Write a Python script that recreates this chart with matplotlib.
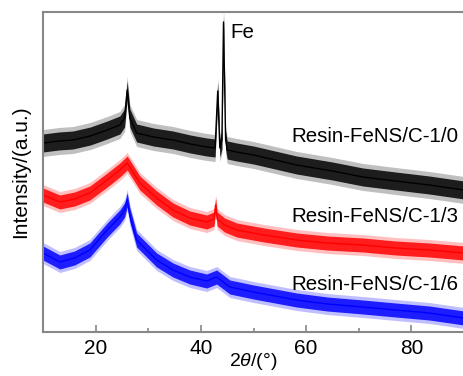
import numpy as np
import matplotlib
matplotlib.use("Agg")
import matplotlib.pyplot as plt

plt.rcParams['font.family'] = ['Liberation Sans', 'DejaVu Sans']
plt.rcParams['mathtext.fontset'] = 'custom'
plt.rcParams['mathtext.it'] = 'Liberation Sans:italic'
plt.rcParams['mathtext.rm'] = 'Liberation Sans'

# values (2theta in deg, intensity in arbitrary units)
tt_10 = [10, 13, 15.7, 19, 22.2, 24.6, 25.5, 26.0, 26.5, 27.8, 31, 34.7, 38, 41.1,
         42.7, 43.2, 43.6, 44.0, 44.3, 44.7, 45.0, 46.8, 50, 58.2, 65, 70.8, 77, 83.4, 90]
i_10 = [189, 191, 192, 196, 202, 207, 214, 242, 214, 199, 195, 192, 188, 185,
        184, 241, 184, 192, 310, 192, 182, 180, 177, 167, 161, 155, 151, 147, 142]

tt_13 = [10, 13.2, 16, 18.9, 22.2, 24.6, 26.0, 28.4, 31.6, 34.7, 37.9, 41.1,
         42.5, 42.8, 43.1, 44.5, 46.8, 52, 58.2, 64, 70.8, 77, 83.4, 90]
i_13 = [137, 130, 133, 139, 152, 162, 169, 149, 134, 122, 114, 110,
        113, 127, 113, 107, 102, 97, 92, 89, 87, 84, 82, 79]

tt_16 = [10, 13.2, 16, 18.9, 22.2, 24.6, 25.5, 26.0, 26.5, 27.8, 31.6, 34.7, 37.9,
         41.1, 43.0, 45.5, 50, 58.2, 64, 70.8, 77, 83.4, 90]
i_16 = [79, 70, 74, 82, 102, 115, 122, 132, 117, 92, 72, 62, 55,
        51, 55, 45, 40, 32, 28, 25, 22, 19, 14]

labels = ["Resin-FeNS/C-1/0", "Resin-FeNS/C-1/3", "Resin-FeNS/C-1/6"]
label_y = [196, 115, 47]
noise = [9, 7, 7]   # half width of the noisy band
colors = ["black", "red", "blue"]

fig = plt.figure(figsize=(4.63, 3.76), dpi=100)
ax = fig.add_axes([43/463, 44/376, 421/463, 320/376])

for x, y, hw, c in zip([tt_10, tt_13, tt_16], [i_10, i_13, i_16], noise, colors):
    x = np.array(x)
    y = np.array(y)
    ax.fill_between(x, y - 1.5*hw, y + 1.5*hw, color=c, alpha=0.25, lw=0)
    ax.fill_between(x, y - hw, y + hw, color=c, alpha=0.85, lw=0)
    ax.plot(x, y, color=c, lw=1)

for lab, ly in zip(labels, label_y):
    ax.text(88.9, ly, lab, ha="right", va="center", fontsize=14.8)
ax.text(45.7, 299, "Fe", ha="left", va="center", fontsize=14.8)

ax.set_xlim(10, 90)
ax.set_ylim(0, 320)
ax.set_xticks([20, 40, 60, 80])
ax.set_xticks([30, 50, 70], minor=True)
ax.set_yticks([])
ax.tick_params(axis="x", which="both", direction="in", labelsize=15, pad=5,
               color="#888888")
ax.tick_params(axis="x", which="major", length=5, width=1.2)
ax.tick_params(axis="x", which="minor", length=3, width=1.2)
for s in ["left", "bottom", "top"]:
    ax.spines[s].set_color("#888888")
    ax.spines[s].set_linewidth(1.5)
ax.spines["right"].set_visible(False)

ax.set_xlabel(r"2$\theta$/(°)", fontsize=14, labelpad=-5)
ax.set_ylabel("Intensity/(a.u.)", fontsize=15, labelpad=9)

fig.savefig("out.png", dpi=100)
